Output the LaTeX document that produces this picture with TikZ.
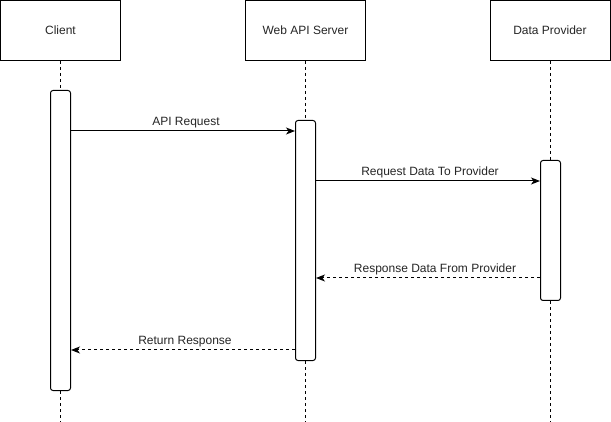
\documentclass[tikz,border=0pt]{standalone}
\usepackage{fontspec}
\setmainfont{Liberation Sans}
\usetikzlibrary{arrows.meta,positioning}
\begin{document}
\begin{tikzpicture}[x=1pt,y=-1pt,
  every node/.style={font=\fontsize{12}{14}\selectfont, text=black!85},
  actor/.style={draw, line width=1pt, minimum width=120pt, minimum height=60pt, inner sep=0pt},
  actbar/.style={draw, line width=1pt, rounded corners=2.5pt, minimum width=20pt, inner sep=0pt, fill=white},
  life/.style={line width=1pt, dash pattern=on 3pt off 3pt},
  msg/.style={line width=1pt, -{Stealth[length=9pt,width=7pt,inset=2.5pt]}},
  ret/.style={msg, dash pattern=on 3pt off 3pt},
  lbl/.style={above, inner sep=3pt}]
\useasboundingbox[fill=white] (0,0) rectangle (611,422);
\node[actor] (client) at (60.5,30.5) {Client};
\node[actor] (web) at (305.5,30.5) {Web API Server};
\node[actor] (data) at (550,30.5) {Data Provider};
\node[actbar, minimum height=300pt] (ca) at (60.5,240.5) {};
\node[actbar, minimum height=240pt] (wa) at (305.5,240.5) {};
\node[actbar, minimum height=140pt] (da) at (550.5,230.5) {};
\coordinate (cend) at (60.5,422);
\coordinate (wend) at (305.5,422);
\coordinate (dend) at (550.5,422);
\draw[life] (client.south) -- (ca.north);
\draw[life] (ca.south) -- (cend);
\draw[life] (web.south) -- (wa.north);
\draw[life] (wa.south) -- (wend);
\draw[life] (data.south -| da.north) -- (da.north);
\draw[life] (da.south) -- (dend);
\draw[msg] (ca.east |- 0,131) -- node[lbl, xshift=3pt] {API Request} (wa.west |- 0,131);
\draw[msg] (wa.east |- 0,181) -- node[lbl, xshift=2pt] {Request Data To Provider} (da.west |- 0,181);
\draw[ret] (da.west |- 0,278) -- node[lbl, xshift=7pt] {Response Data From Provider} (wa.east |- 0,278);
\draw[ret] (wa.west |- 0,350) -- node[lbl, xshift=2pt] {Return Response} (ca.east |- 0,350);
\end{tikzpicture}
\end{document}
